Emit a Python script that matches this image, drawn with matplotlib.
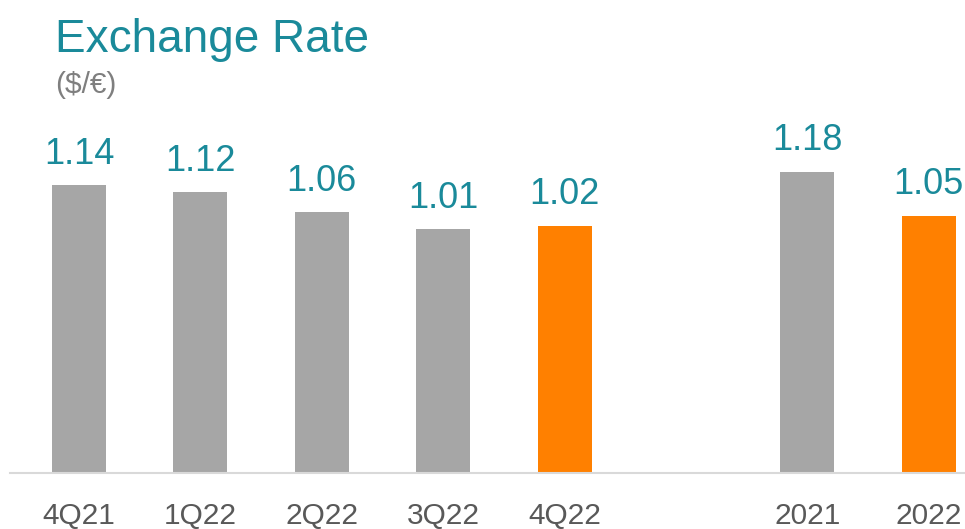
import matplotlib
matplotlib.use("Agg")
import matplotlib.pyplot as plt

plt.rcParams["font.family"] = ["Liberation Sans", "DejaVu Sans"]

# data
labels = ["4Q21", "1Q22", "2Q22", "3Q22", "4Q22", "2021", "2022"]
positions = [0, 1, 2, 3, 4, 6, 7]
values = [1.14, 1.12, 1.06, 1.01, 1.02, 1.18, 1.05]
bar_colors = ["#A6A6A6", "#A6A6A6", "#A6A6A6", "#A6A6A6", "#FF8000", "#A6A6A6", "#FF8000"]

TEAL = "#1A8A9A"
W, H = 965, 529

fig = plt.figure(figsize=(W / 100, H / 100), dpi=100)
ax = fig.add_axes([10 / W, 56 / H, 955 / W, 373 / H])

bars = ax.bar(positions, values, width=0.445, color=bar_colors)
ax.bar_label(bars, labels=[f"{v:.2f}" for v in values], padding=9.5,
             color=TEAL, fontsize=26)

ax.set_ylim(0.288, 1.392)
ax.set_xlim(-0.568, 7.298)
ax.set_xticks(positions)
ax.set_xticklabels(labels, fontsize=21.5, color="#595959")
ax.tick_params(axis="x", length=0, pad=21)
ax.set_yticks([])
for s in ["top", "right", "left"]:
    ax.spines[s].set_visible(False)
ax.spines["bottom"].set_color("#D9D9D9")
ax.spines["bottom"].set_linewidth(1.5)

fig.text(55 / W, 1 - 52 / H, "Exchange Rate", fontsize=33, color=TEAL,
         va="baseline", ha="left")
fig.text(55 / W, 1 - 93 / H, "($/€)", fontsize=21.5, color="#7F7F7F",
         va="baseline", ha="left")

fig.savefig("out.png", dpi=100)
